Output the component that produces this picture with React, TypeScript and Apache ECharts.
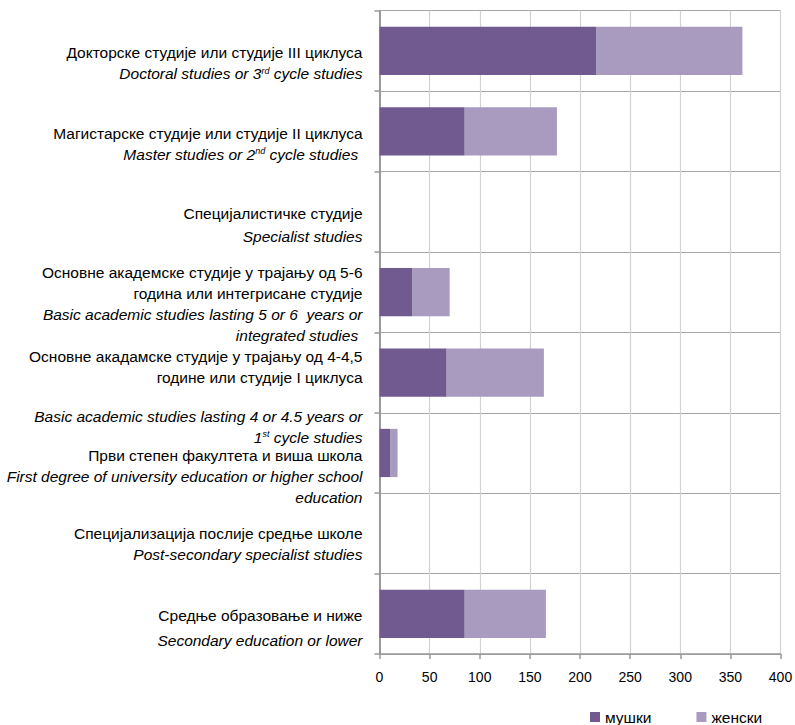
import React, { useEffect, useRef } from "react";
import * as echarts from "echarts";

// ---- data ----
const categories = [
  "Докторске студије или студије III циклуса",
  "Магистарске студије или студије II циклуса",
  "Специјалистичке студије",
  "Основне академске студије у трајању од 5-6 година или интегрисане студије",
  "Основне акадамске студије у трајању од 4-4,5 године или студије I циклуса",
  "Први степен факултета и виша школа",
  "Специјализација послије средње школе",
  "Средње образовање и ниже",
];
const seriesNames = ["мушки", "женски"];
const maleValues = [216, 85, 0, 33, 67, 10.5, 0, 85];
const femaleValues = [146, 92, 0, 37, 97, 7.5, 0, 81];
const xMin = 0;
const xMax = 400;
const xInterval = 50;

// label lines (rich-text markup)
const labelLines: string[][] = [
  ["{r|Докторске студије или студије III циклуса}", "{i|Doctoral studies or 3}{s|rd}{i| cycle studies}"],
  ["{r|Магистарске студије или студије II циклуса}", "{i|Master studies or 2}{s|nd}{i| cycle studies\u00a0}"],
  ["{r2|Специјалистичке студије}", "{i2|Specialist studies}"],
  [
    "{r|Основне академске студије у трајању од 5-6}",
    "{r|година или интегрисане студије}",
    "{i|Basic academic studies lasting 5 or 6\u00a0 years or}",
    "{i|integrated studies\u00a0}",
  ],
  [
    "{r|Основне акадамске студије у трајању од 4-4,5}",
    "{r|године или студије I циклуса}",
    "{gap|\u00a0}",
    "{i|Basic academic studies lasting 4 or 4.5 years or}",
    "{i|1}{s|st}{i| cycle studies}",
  ],
  [
    "{r|Први степен факултета и виша школа}",
    "{i|First degree of university education or higher school}",
    "{i|education}",
  ],
  ["{r|Специјализација послије средње школе}", "{i|Post-secondary specialist studies}"],
  ["{r3|Средње образовање и ниже}", "{i3|Secondary education or lower}"],
];

// ---- style ----
const topSpace = [25, 25, 26, 23, 49, 47, 22, 28];
const FONT = "'Liberation Sans', Arial, sans-serif";
const FS = 15.5;
const darkColor = "#715a8f";
const lightColor = "#a99bbf";

export default function App() {
  const ref = useRef<HTMLDivElement>(null);
  useEffect(() => {
    if (!ref.current) return;
    const chart = echarts.init(ref.current, undefined, { renderer: "svg" });
    const base = { fontFamily: FONT, fontSize: FS, color: "#000", align: "right" };
    const rich: Record<string, any> = {
      r: { ...base, lineHeight: 21 },
      i: { ...base, lineHeight: 21, fontStyle: "italic" },
      r2: { ...base, lineHeight: 22.7 },
      i2: { ...base, lineHeight: 22.7, fontStyle: "italic" },
      r3: { ...base, lineHeight: 25 },
      i3: { ...base, lineHeight: 25, fontStyle: "italic" },
      s: { ...base, fontSize: 9, height: 15, lineHeight: 15, fontStyle: "italic", verticalAlign: "top" },
      gap: { fontSize: 1, lineHeight: 17.7, align: "right" },
    };
    topSpace.forEach((h, k) => {
      rich["sp" + k] = { fontSize: 1, lineHeight: h, align: "right" };
    });
    chart.setOption({
      animation: false,
      grid: {
        left: 379.5,
        right: 14.5,
        top: 10.7,
        bottom: 71,
        containLabel: false,
        outerBoundsMode: "none",
      },
      legend: {
        data: seriesNames,
        left: 590,
        top: 709,
        itemWidth: 10,
        itemHeight: 10,
        itemGap: 45,
        icon: "rect",
        textStyle: { fontFamily: FONT, fontSize: FS, color: "#000" },
        padding: 0,
      },
      xAxis: {
        type: "value",
        min: xMin,
        max: xMax,
        interval: xInterval,
        axisLine: { show: true, lineStyle: { color: "#999", width: 1.5 } },
        axisTick: { show: true, length: 5, lineStyle: { color: "#999", width: 1.5 } },
        axisLabel: { fontFamily: FONT, fontSize: 14, color: "#000", margin: 16 },
        splitLine: { show: true, lineStyle: { color: "#d2d2d2", width: 1.2 } },
      },
      yAxis: {
        type: "category",
        inverse: true,
        data: categories,
        axisLine: { show: true, lineStyle: { color: "#9a9a9a", width: 2 } },
        axisTick: { show: true, length: 5, lineStyle: { color: "#9a9a9a", width: 1.5 } },
        splitLine: { show: true, lineStyle: { color: "#a6a6a6", width: 1.2 } },
        axisLabel: {
          interval: 0,
          margin: 17,
          align: "right",
          rich,
          formatter: (_v: string, idx: number) =>
            `{sp${idx}|\u00a0}\n` + labelLines[idx].join("\n"),
        },
      },
      series: [
        {
          name: seriesNames[0],
          type: "bar",
          stack: "total",
          data: maleValues,
          barCategoryGap: "40%",
          itemStyle: { color: darkColor },
        },
        {
          name: seriesNames[1],
          type: "bar",
          stack: "total",
          data: femaleValues,
          barCategoryGap: "40%",
          itemStyle: { color: lightColor },
        },
      ],
    });
    return () => chart.dispose();
  }, []);
  return (
    <div
      ref={ref}
      style={{ position: "fixed", left: 0, top: 0, width: 795, height: 725, background: "#fff" }}
    />
  );
}
